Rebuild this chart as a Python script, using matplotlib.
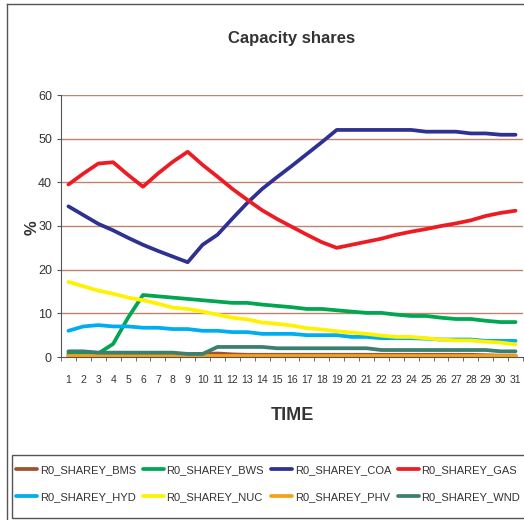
"""Capacity shares chart (R0 region, share of capacity by technology)."""

import matplotlib.pyplot as plt
from matplotlib.patches import Rectangle
from matplotlib.lines import Line2D
import numpy as np

plt.rcParams['font.family'] = ['Liberation Sans Narrow', 'Liberation Sans', 'DejaVu Sans']

TIME = list(range(1, 32))

SERIES_NAMES = [
    'R0_SHAREY_BMS', 'R0_SHAREY_BWS', 'R0_SHAREY_COA', 'R0_SHAREY_GAS',
    'R0_SHAREY_HYD', 'R0_SHAREY_NUC', 'R0_SHAREY_PHV', 'R0_SHAREY_WND',
]

BMS = [0.6, 0.6, 0.6, 0.6, 0.6, 0.6, 0.6, 0.6, 0.6, 0.7, 0.8, 0.6, 0.5, 0.5,
       0.5, 0.5, 0.5, 0.5, 0.5, 0.5, 0.5, 0.5, 0.5, 0.5, 0.5, 0.5, 0.5, 0.5,
       0.4, 0.3, 0.3]
BWS = [1.0, 1.0, 0.8, 3.0, 9.0, 14.2, 13.9, 13.6, 13.3, 13.0, 12.7, 12.4,
       12.4, 12.0, 11.7, 11.4, 11.0, 11.0, 10.7, 10.4, 10.1, 10.1, 9.7, 9.4,
       9.4, 9.0, 8.7, 8.7, 8.3, 8.0, 8.0]
COA = [34.5, 32.5, 30.5, 29.0, 27.3, 25.7, 24.3, 23.0, 21.7, 25.7, 28.0,
       31.7, 35.3, 38.5, 41.2, 43.8, 46.5, 49.2, 52.0, 52.0, 52.0, 52.0,
       52.0, 52.0, 51.6, 51.6, 51.6, 51.2, 51.2, 50.9, 50.9]
GAS = [39.5, 42.0, 44.3, 44.6, 41.7, 39.0, 42.0, 44.7, 47.0, 44.0, 41.3,
       38.5, 36.0, 33.6, 31.6, 29.8, 28.0, 26.3, 25.0, 25.7, 26.4, 27.1,
       28.0, 28.7, 29.3, 30.0, 30.6, 31.3, 32.3, 33.0, 33.5]
HYD = [6.0, 7.0, 7.3, 7.0, 7.0, 6.7, 6.7, 6.4, 6.4, 6.0, 6.0, 5.7, 5.7, 5.3,
       5.3, 5.3, 5.0, 5.0, 5.0, 4.6, 4.6, 4.3, 4.3, 4.3, 4.2, 4.0, 4.0, 4.0,
       3.7, 3.7, 3.7]
NUC = [17.2, 16.2, 15.2, 14.5, 13.6, 13.0, 12.2, 11.3, 11.0, 10.4, 9.7, 9.0,
       8.6, 7.9, 7.6, 7.2, 6.6, 6.3, 5.9, 5.6, 5.3, 4.9, 4.6, 4.6, 4.3, 4.0,
       3.8, 3.8, 3.5, 3.3, 2.9]
PHV = [0.2] * 31
WND = [1.3, 1.3, 1.0, 1.0, 1.0, 1.0, 1.0, 1.0, 0.7, 0.7, 2.3, 2.3, 2.3, 2.3,
       2.0, 2.0, 2.0, 2.0, 2.0, 2.0, 2.0, 1.6, 1.6, 1.6, 1.6, 1.6, 1.6, 1.6,
       1.6, 1.3, 1.3]

COLORS = ['#a0522d', '#00a650', '#2e3192', '#ed1c24',
          '#00aeef', '#fff200', '#f7a11a', '#3a7f6f']

fig = plt.figure(figsize=(5.24, 5.2), dpi=100)
ax = fig.add_axes([61 / 524, 1 - 357 / 520, 462 / 524, 262 / 520])

for name, values, color in zip(SERIES_NAMES,
                               [BMS, BWS, COA, GAS, HYD, NUC, PHV, WND],
                               COLORS):
    ax.plot(TIME, values, color=color, linewidth=2.7, label=name,
            solid_capstyle='round', solid_joinstyle='round')

ax.set_xlim(0.5, 31.5)
ax.set_ylim(0, 60)
ax.set_yticks(range(0, 61, 10))
ax.set_xticks(TIME)
ax.set_xticks(np.arange(0.5, 32, 1), minor=True)
ax.tick_params(axis='x', which='major', length=0, pad=13, labelsize=7.5)
ax.tick_params(axis='x', which='minor', length=3, color='#555555')
ax.tick_params(axis='y', length=3, color='#555555', labelsize=9,
               labelcolor='#333333')
ax.tick_params(axis='x', labelcolor='#333333')

for y in range(10, 61, 10):
    ax.axhline(y, color='#bf8470', linewidth=1.0, zorder=0)

for side in ['top', 'right']:
    ax.spines[side].set_visible(False)
for side in ['left', 'bottom']:
    ax.spines[side].set_color('#555555')

fig.text(0.5 * (61 + 523) / 524, 1 - 38 / 520, 'Capacity shares',
         ha='center', va='center', fontsize=12, fontweight='bold',
         color='#333333')
fig.text(0.5 * (61 + 523) / 524, 1 - 416 / 520, 'TIME',
         ha='center', va='center', fontsize=13, fontweight='bold',
         color='#333333')
fig.text(32 / 524, 1 - 228 / 520, '%', ha='center', va='center',
         rotation=90, fontsize=12, fontweight='bold', color='#333333')

# outer chart frame, clipped at the right and bottom like the source
fig.add_artist(Line2D([7 / 524, 7 / 524], [0, 1 - 4 / 520],
                      transform=fig.transFigure, color='#555555', lw=1))
fig.add_artist(Line2D([7 / 524, 1], [1 - 4 / 520, 1 - 4 / 520],
                      transform=fig.transFigure, color='#555555', lw=1))
fig.add_artist(Rectangle((12 / 524, 1 - 518 / 520), 520 / 524, 63 / 520,
                         transform=fig.transFigure, fill=False,
                         edgecolor='#555555', lw=1))

handles, labels = ax.get_legend_handles_labels()
# reorder for row-wise fill across 4 columns
order = [0, 4, 1, 5, 2, 6, 3, 7]
fig.legend([handles[i] for i in order], [labels[i] for i in order],
           loc='upper left', bbox_to_anchor=(16 / 524, 1 - 465 / 520),
           ncol=4, frameon=False, fontsize=8, handlelength=1.9,
           handletextpad=0.25, columnspacing=0.6, labelspacing=1.55,
           borderaxespad=0, borderpad=0, labelcolor='#333333')

fig.savefig('out.png', dpi=100)
